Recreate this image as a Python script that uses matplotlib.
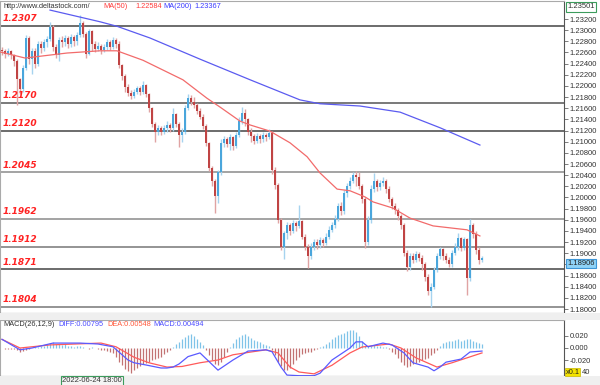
import matplotlib

matplotlib.use("Agg")
import matplotlib.pyplot as plt
import numpy as np
from matplotlib.patches import Rectangle

# ---- candles (EUR/USD) ----
first_open = 1.2265
closes = [
    1.2262, 1.2258, 1.2263, 1.2255, 1.2245, 1.2212, 1.2195, 1.2232, 1.2286, 1.2248,
    1.2262, 1.2240, 1.2275, 1.2268, 1.2279, 1.2285, 1.2305, 1.2270, 1.2255, 1.2282,
    1.2278, 1.2286, 1.2276, 1.2288, 1.2280, 1.2292, 1.2312, 1.2294, 1.2258, 1.2298,
    1.2275, 1.2266, 1.2272, 1.2264, 1.2270, 1.2278, 1.2270, 1.2282, 1.2276, 1.2238,
    1.2218, 1.2198, 1.2188, 1.2182, 1.2190, 1.2196, 1.2190, 1.2202, 1.2185, 1.2160,
    1.2132, 1.2118, 1.2125, 1.2118, 1.2124, 1.2130, 1.2124, 1.2150, 1.2132, 1.2112,
    1.2118, 1.2160, 1.2178, 1.2172, 1.2165, 1.2155, 1.2145, 1.2128, 1.2098, 1.2052,
    1.2030, 1.2002, 1.2045, 1.2098, 1.2104, 1.2096, 1.2108, 1.2092, 1.2112, 1.2138,
    1.2152, 1.2140, 1.2118, 1.2110, 1.2102, 1.2110, 1.2104, 1.2112, 1.2108, 1.2116,
    1.2050, 1.2022, 1.1960, 1.1912, 1.1936, 1.1950, 1.1940, 1.1955, 1.1948, 1.1958,
    1.1930, 1.1912, 1.1895, 1.1912, 1.1920, 1.1914, 1.1924, 1.1918, 1.1930, 1.1942,
    1.1950, 1.1962, 1.1985, 1.1975, 1.2008, 1.2020, 1.2030, 1.2040, 1.2036, 1.2020,
    1.1998, 1.1920, 1.1960, 1.2015, 1.2030, 1.2018, 1.2026, 1.2030, 1.2015, 1.1998,
    1.1985, 1.1978, 1.1966, 1.1950, 1.1900, 1.1875, 1.1895, 1.1888, 1.1898, 1.1892,
    1.1880, 1.1858, 1.1832, 1.1840, 1.1870, 1.1895, 1.1908, 1.1895, 1.1888, 1.1880,
    1.1900, 1.1912, 1.1928, 1.1910, 1.1925, 1.1855, 1.1950, 1.1935, 1.1905, 1.1888,
    1.18906,
]
highs = [
    1.2270, 1.2266, 1.2268, 1.2264, 1.2258, 1.2248, 1.2215, 1.2238, 1.2292, 1.2290,
    1.2268, 1.2268, 1.2280, 1.2280, 1.2284, 1.2290, 1.2315, 1.2310, 1.2275, 1.2288,
    1.2290, 1.2292, 1.2290, 1.2294, 1.2292, 1.2297, 1.2327, 1.2316, 1.2296, 1.2302,
    1.2300, 1.2280, 1.2278, 1.2276, 1.2276, 1.2284, 1.2282, 1.2288, 1.2286, 1.2280,
    1.2240, 1.2222, 1.2204, 1.2192, 1.2194, 1.2200, 1.2200, 1.2208, 1.2204, 1.2188,
    1.2162, 1.2136, 1.2130, 1.2128, 1.2130, 1.2138, 1.2134, 1.2160, 1.2152, 1.2136,
    1.2124, 1.2166, 1.2185, 1.2184, 1.2180, 1.2170, 1.2160, 1.2150, 1.2132, 1.2100,
    1.2056, 1.2034, 1.2050, 1.2104, 1.2110, 1.2108, 1.2114, 1.2110, 1.2118, 1.2144,
    1.2162, 1.2158, 1.2142, 1.2124, 1.2114, 1.2116, 1.2114, 1.2118, 1.2116, 1.2122,
    1.2120, 1.2054, 1.2026, 1.1964, 1.1940, 1.1956, 1.1955, 1.1960, 1.1958, 1.1986,
    1.1960, 1.1934, 1.1916, 1.1918, 1.1925, 1.1926, 1.1930, 1.1928, 1.1936, 1.1948,
    1.1956, 1.1968, 1.1990, 1.1992, 1.2014, 1.2026, 1.2036, 1.2046, 1.2048, 1.2046,
    1.2024, 1.2000, 1.1966, 1.2022, 1.2044, 1.2034, 1.2032, 1.2036, 1.2034, 1.2020,
    1.2000, 1.1990, 1.1982, 1.1970, 1.1955, 1.1905, 1.1900, 1.1900, 1.1904, 1.1902,
    1.1896, 1.1884, 1.1862, 1.1846, 1.1876, 1.1900, 1.1912, 1.1910, 1.1900, 1.1894,
    1.1906, 1.1918, 1.1936, 1.1930, 1.1930, 1.1928, 1.1962, 1.1955, 1.1940, 1.1912,
    1.1895,
]
lows = [
    1.2255, 1.2250, 1.2254, 1.2248, 1.2235, 1.2166, 1.2185, 1.2190, 1.2228, 1.2240,
    1.2222, 1.2232, 1.2236, 1.2259, 1.2262, 1.2270, 1.2280, 1.2262, 1.2250, 1.2245,
    1.2270, 1.2272, 1.2268, 1.2270, 1.2272, 1.2274, 1.2288, 1.2288, 1.2250, 1.2255,
    1.2262, 1.2260, 1.2262, 1.2258, 1.2260, 1.2264, 1.2264, 1.2266, 1.2268, 1.2232,
    1.2210, 1.2190, 1.2182, 1.2176, 1.2178, 1.2186, 1.2184, 1.2186, 1.2180, 1.2154,
    1.2126, 1.2100, 1.2112, 1.2112, 1.2114, 1.2118, 1.2118, 1.2120, 1.2126, 1.2090,
    1.2100, 1.2114, 1.2156, 1.2165, 1.2160, 1.2150, 1.2140, 1.2122, 1.2092, 1.2048,
    1.2020, 1.1972, 1.1990, 1.2040, 1.2090, 1.2090, 1.2086, 1.2085, 1.2088, 1.2108,
    1.2132, 1.2128, 1.2112, 1.2100, 1.2096, 1.2098, 1.2098, 1.2100, 1.2102, 1.2104,
    1.2042, 1.2016, 1.1954, 1.1905, 1.1890, 1.1925, 1.1932, 1.1936, 1.1940, 1.1945,
    1.1925, 1.1905, 1.1873, 1.1890, 1.1905, 1.1908, 1.1910, 1.1912, 1.1914, 1.1926,
    1.1938, 1.1946, 1.1958, 1.1968, 1.1970, 1.2000, 1.2016, 1.2026, 1.2020, 1.2015,
    1.1990, 1.1910, 1.1915, 1.1955, 1.2010, 1.2012, 1.2014, 1.2020, 1.2008, 1.1992,
    1.1980, 1.1970, 1.1960, 1.1944, 1.1895, 1.1868, 1.1870, 1.1882, 1.1884, 1.1886,
    1.1870, 1.1850, 1.1826, 1.1804, 1.1836, 1.1866, 1.1890, 1.1888, 1.1882, 1.1876,
    1.1876, 1.1896, 1.1906, 1.1904, 1.1906, 1.1825, 1.1850, 1.1928, 1.1898, 1.1880,
    1.1884,
]

# moving averages (vertices at candle positions)
ma50_x = [-0.7, 7.7, 21.7, 32.7, 38.3, 47, 60.3, 68.3, 72.7, 79.3, 82.7, 89.3, 96,
          101.7, 106, 111.7, 116, 121, 123.7, 130.3, 136, 143.7, 155, 159.3]
ma50_v = [1.2261, 1.2250, 1.2259, 1.2263, 1.2263, 1.2246, 1.2211, 1.2178, 1.2162,
          1.2137, 1.2130, 1.2119, 1.2098, 1.2073, 1.2044, 1.2015, 1.2012, 1.2001,
          1.1992, 1.1981, 1.1963, 1.1949, 1.1942, 1.1931]
ma200_x = [16, 32.7, 38.3, 49.3, 66, 82.7, 99.3, 106, 119.3, 132.7, 146, 159.3]
ma200_v = [1.2336, 1.2315, 1.2307, 1.2286, 1.2248, 1.2211, 1.2175, 1.2168, 1.2164,
           1.2153, 1.2125, 1.2094]

levels = [1.2307, 1.2170, 1.2120, 1.2045, 1.1962, 1.1912, 1.1871, 1.1804]
level_colors = ["#444444", "#555555", "#444444", "#8a8a8a", "#8a8a8a", "#777777",
                "#444444", "#777777"]
price_ticks = [1.180 + 0.002 * k for k in range(27)]

# MACD panel
diff_x = [0, 6, 10, 17, 26, 32, 37, 42, 44, 48, 53, 55, 57, 59, 62, 66, 72, 77, 82,
          88, 90, 93, 95, 99, 104, 106, 110, 116, 118, 120, 122, 127, 130, 134, 137,
          142, 144, 146, 148, 153, 156, 160]
diff_v = [0.0141, -0.003, 0.000, 0.008, 0.008, 0.0065, 0.002, -0.0195, -0.024,
          -0.0276, -0.0325, -0.0325, -0.031, -0.026, -0.014, -0.008, -0.036, -0.0195,
          -0.005, -0.003, -0.006, -0.031, -0.044, -0.045, -0.045, -0.041, -0.0195,
          0.000, 0.010, 0.010, 0.002, 0.008, 0.005, -0.008, -0.024, -0.031, -0.037,
          -0.031, -0.023, -0.018, -0.0065, -0.005]
dea_x = [0, 6, 16, 33, 38, 44, 49, 55, 60, 66, 72, 77, 83, 88, 92, 96, 99, 104, 110,
         116, 120, 129, 133, 138, 145, 150, 155, 160]
dea_v = [0.014, 0.000, 0.005, 0.008, 0.002, -0.015, -0.024, -0.031, -0.030, -0.024,
         -0.0195, -0.011, -0.0065, -0.003, -0.008, -0.031, -0.039, -0.042, -0.028,
         -0.008, 0.0016, 0.0065, 0.000, -0.016, -0.031, -0.024, -0.016, -0.008]
hist = [
    0.000, -0.001, -0.001, -0.002, -0.002, -0.004, -0.006, -0.005, -0.003, -0.001,
    0.000, 0.001, 0.002, 0.003, 0.004, 0.006, 0.008, 0.009, 0.007, 0.006,
    0.005, 0.006, 0.004, 0.003, 0.002, 0.003, 0.004, 0.002, 0.000, -0.001,
    0.001, 0.000, -0.002, -0.003, -0.004, -0.005, -0.006, -0.008, -0.014, -0.022,
    -0.028, -0.034, -0.038, -0.040, -0.036, -0.032, -0.030, -0.026, -0.024, -0.022,
    -0.020, -0.018, -0.016, -0.014, -0.010, -0.006, -0.003, 0.002, 0.006, 0.010,
    0.014, 0.018, 0.021, 0.022, 0.019, 0.014, 0.010, 0.005, -0.004, -0.012,
    -0.020, -0.026, -0.028, -0.022, -0.014, -0.006, 0.002, 0.008, 0.014, 0.018,
    0.021, 0.022, 0.019, 0.016, 0.013, 0.011, 0.009, 0.007, 0.005, 0.003,
    -0.004, -0.012, -0.022, -0.030, -0.035, -0.036, -0.032, -0.026, -0.020, -0.014,
    -0.010, -0.008, -0.007, -0.006, -0.004, -0.002, 0.002, 0.004, 0.007, 0.010,
    0.014, 0.018, 0.021, 0.023, 0.025, 0.027, 0.029, 0.029, 0.026, 0.020,
    0.012, 0.004, 0.003, 0.004, 0.005, 0.004, 0.003, 0.002, 0.001, -0.002,
    -0.006, -0.010, -0.016, -0.022, -0.028, -0.031, -0.030, -0.026, -0.024, -0.022,
    -0.020, -0.018, -0.016, -0.012, -0.008, -0.004, 0.004, 0.008, 0.010, 0.011,
    0.012, 0.013, 0.014, 0.012, 0.013, 0.015, 0.014, 0.012, 0.010, 0.008,
    0.006,
]
macd_ticks = [0.02, 0.0, -0.02, -0.04]

W, H = 600, 385


def fx(px):
    return px / W


def fy(py):
    return 1 - py / H


plt.rcParams["font.family"] = ["Liberation Sans", "DejaVu Sans"]
fig = plt.figure(figsize=(6, 3.85), dpi=100)
fig.patch.set_facecolor("white")

# grey separators
fig.patches.append(Rectangle((0, fy(320)), fx(W), 7 / H, transform=fig.transFigure,
                             fc="#efefef", ec="none", zorder=0))
fig.patches.append(Rectangle((0, 0), fx(W), 9 / H, transform=fig.transFigure,
                             fc="#efefef", ec="none", zorder=0))

ax = fig.add_axes([0, fy(313), fx(564), 312 / H])
xlim = (-2 / 3, 562 / 3)

o = np.array([first_open] + closes[:-1])
c = np.array(closes)
h = np.maximum(np.array(highs), np.maximum(o, c))
l = np.minimum(np.array(lows), np.minimum(o, c))
idx = np.arange(len(c))
bull = c >= o
body_col = np.where(bull, "#4aa6dc", "#c04444")
wick_col = np.where(bull, "#a6d3ef", "#e0a3a3")

for lv, col in zip(levels, level_colors):
    ax.axhline(lv, color=col, lw=1.1, zorder=1)
    ax.text(3 / 564, lv + 0.0005, f"{lv:.4f}", transform=ax.get_yaxis_transform(),
            ha="left", va="bottom", color="#ff2222", fontsize=6.5,
            fontweight="bold", fontstyle="italic", family="DejaVu Sans", zorder=5)

ax.vlines(idx, l, h, colors=wick_col, lw=1.0, zorder=2)
ax.bar(idx, np.maximum(np.abs(c - o), 0.00008), bottom=np.minimum(o, c), width=0.62,
       color=body_col, linewidth=0, zorder=3)
ax.plot(ma50_x, ma50_v, color="#f26b6b", lw=0.9, zorder=4)
ax.plot(ma200_x, ma200_v, color="#5b5bf0", lw=0.9, zorder=4)

ax.set_xlim(*xlim)
ax.set_ylim(1.232 - (313 - 19) / 5577, 1.232 + 18 / 5577)
ax.set_xticks([])
ax.yaxis.tick_right()
ax.set_yticks(price_ticks)
# the 1.18800 label sits under the current-price box
ax.set_yticklabels(["" if abs(t - 1.188) < 1e-6 else f"{t:.5f}" for t in price_ticks])
ax.tick_params(axis="y", direction="out", length=3, width=0.6, color="#666666",
               labelsize=5.5, labelcolor="#333333", pad=1)
for side, col in (("left", "#aaaaaa"), ("top", "#aaaaaa"), ("right", "#555555"),
                  ("bottom", "#555555")):
    ax.spines[side].set_color(col)
    ax.spines[side].set_linewidth(0.8)

# header
fig.text(fx(3), fy(6), "http://www.deltastock.com/", fontsize=5.3, color="#333333",
         va="center")
fig.text(fx(103), fy(6), "MA(50)", fontsize=5.3, color="#ff3b3b", va="center")
fig.text(fx(135), fy(6), "1.22584", fontsize=5.3, color="#ff3b3b", va="center")
fig.text(fx(163), fy(6), "MA(200)", fontsize=5.3, color="#3b3bff", va="center")
fig.text(fx(194), fy(6), "1.23367", fontsize=5.3, color="#3b3bff", va="center")

fig.text(fx(567), fy(7), "1.23501", fontsize=5.5, color="#333333", va="center",
         bbox=dict(boxstyle="square,pad=0.18", fc="white", ec="#3c9c5c", lw=0.8))
fig.text(fx(567), fy(263.5), "1.18906", fontsize=5.5, color="#222222", va="center",
         bbox=dict(boxstyle="square,pad=0.18", fc="#8fd3f7", ec="#3d95d6", lw=0.8))

# MACD panel
mx = fig.add_axes([0, fy(376), fx(564), 56 / H])
hist = np.array(hist)
mx.vlines(idx, 0, hist, colors=np.where(hist >= 0, "#7fc3e8", "#c27272"), lw=0.9)
mx.plot(dea_x, dea_v, color="#ff5a5a", lw=0.9)
mx.plot(diff_x, diff_v, color="#5a5aff", lw=0.9)
mx.set_xlim(*xlim)
mx.set_ylim(-0.0455, 0.0455)
mx.set_xticks([])
mx.yaxis.tick_right()
mx.set_yticks(macd_ticks)
# the -0.040 label is mostly hidden by the "x0.1" scale box
mx.set_yticklabels([f"{t:.3f}" if t > -0.03 else "" for t in macd_ticks])
mx.tick_params(axis="y", direction="out", length=3, width=0.6, color="#666666",
               labelsize=5.5, labelcolor="#333333", pad=1)
for side, col in (("left", "#aaaaaa"), ("top", "#aaaaaa"), ("right", "#555555"),
                  ("bottom", "#555555")):
    mx.spines[side].set_color(col)
    mx.spines[side].set_linewidth(0.8)

fig.text(fx(3), fy(325), "MACD(26,12,9)", fontsize=5.3, color="#333333", va="center")
fig.text(fx(58), fy(325), "DIFF:0.00795", fontsize=5.3, color="#4b4bff", va="center")
fig.text(fx(107), fy(325), "DEA:0.00548", fontsize=5.3, color="#ff5a3c", va="center")
fig.text(fx(153), fy(325), "MACD:0.00494", fontsize=5.3, color="#4b4bff", va="center")
fig.text(fx(565.5), fy(372), "x0.1", fontsize=5.3, color="#222222", va="center",
         bbox=dict(boxstyle="square,pad=0.1", fc="#f5e400", ec="#c8b800", lw=0.5))
fig.text(fx(582), fy(372), "40", fontsize=5.5, color="#333333", va="center")

fig.text(fx(62), fy(381), "2022-06-24 18:00", fontsize=5.5, color="#333333",
         va="center",
         bbox=dict(boxstyle="square,pad=0.15", fc="#f4f4f4", ec="#3c9c5c", lw=0.8))

fig.savefig("out.png", dpi=100, facecolor="white")
